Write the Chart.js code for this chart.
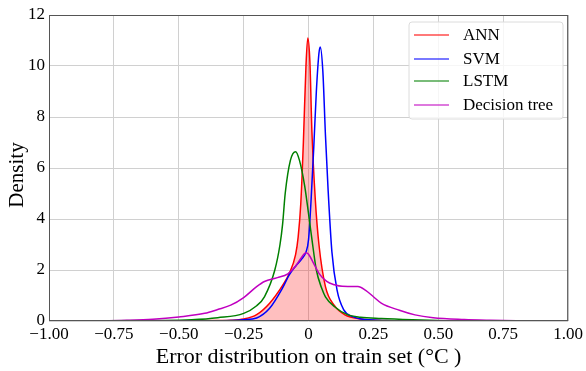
<!DOCTYPE html>
<html>
<head>
<meta charset="utf-8">
<script src="https://cdn.jsdelivr.net/npm/chart.js@4"></script>
<style>
  html, body { margin: 0; padding: 0; background: #fff; }
  #wrap { width: 586px; height: 371px; position: relative; }
</style>
</head>
<body>
<div id="wrap"><canvas id="kde"></canvas></div>
<script>
// Density curves
const seriesNames = ['ANN', 'SVM', 'LSTM', 'Decision tree'];

const annX = [-1, -0.5, -0.35, -0.3, -0.25, -0.2, -0.15, -0.1, -0.075, -0.05, -0.04, -0.03, -0.02, -0.01, -0.003, 0.005, 0.013, 0.026, 0.04, 0.065, 0.1, 0.14, 0.2, 0.3, 0.5, 1];
const annY = [0, 0.005, 0.02, 0.03, 0.08, 0.25, 0.7, 1.4, 1.85, 2.6, 3.3, 4.6, 7.0, 10.0, 11.1, 10.2, 7.4, 4.75, 3.0, 1.35, 0.6, 0.24, 0.08, 0.02, 0.005, 0];

const svmX = [-1, -0.5, -0.3, -0.25, -0.2, -0.15, -0.1, -0.075, -0.05, -0.025, -0.01, 0, 0.01, 0.02, 0.03, 0.04, 0.045, 0.055, 0.065, 0.075, 0.09, 0.11, 0.135, 0.17, 0.22, 0.3, 0.5, 1];
const svmY = [0, 0.005, 0.02, 0.05, 0.12, 0.5, 1.3, 1.8, 2.15, 2.45, 2.7, 3.2, 4.8, 6.8, 9.0, 10.5, 10.75, 9.8, 7.3, 5.2, 2.7, 1.2, 0.45, 0.17, 0.06, 0.02, 0.005, 0];

const lstmX = [-1, -0.8, -0.6, -0.45, -0.35, -0.25, -0.2, -0.17, -0.13, -0.11, -0.1, -0.09, -0.07, -0.05, -0.035, -0.015, 0, 0.013, 0.03, 0.05, 0.065, 0.1, 0.15, 0.2, 0.28, 0.4, 0.5, 0.6, 1];
const lstmY = [0, 0.005, 0.02, 0.05, 0.13, 0.3, 0.6, 0.95, 2.0, 3.0, 3.8, 5.0, 6.3, 6.64, 6.3, 5.3, 4.2, 3.2, 2.0, 1.3, 0.95, 0.56, 0.25, 0.15, 0.1, 0.05, 0.02, 0.005, 0];

const dtX = [-1, -0.8, -0.7, -0.6, -0.5, -0.4, -0.35, -0.3, -0.25, -0.2, -0.17, -0.12, -0.08, -0.05, -0.03, -0.01, 0, 0.02, 0.04, 0.07, 0.1, 0.13, 0.19, 0.22, 0.25, 0.28, 0.35, 0.41, 0.48, 0.6, 0.7, 0.8, 1];
const dtY = [0, 0.01, 0.03, 0.07, 0.16, 0.3, 0.45, 0.62, 0.92, 1.35, 1.55, 1.7, 1.85, 2.15, 2.45, 2.68, 2.62, 2.25, 1.87, 1.55, 1.42, 1.36, 1.35, 1.2, 0.95, 0.7, 0.42, 0.24, 0.13, 0.06, 0.03, 0.01, 0];

const xTicks = [-1, -0.75, -0.5, -0.25, 0, 0.25, 0.5, 0.75, 1];
const yTicks = [0, 2, 4, 6, 8, 10, 12];

const xTitle = 'Error distribution on train set (°C )';
const yTitle = 'Density';

const colours = ['#ff0000', '#0000ff', '#008000', '#c000c0'];
const legendColours = ['rgba(255,0,0,0.7)', 'rgba(0,0,255,0.7)', 'rgba(0,128,0,0.7)', 'rgba(192,0,192,0.7)'];

const serif = '"Liberation Serif", "Times New Roman", serif';

function pts(xs, ys) {
  return xs.map((x, i) => ({ x: x, y: ys[i] }));
}

function fmtX(v) {
  if (Math.abs(v) < 1e-9) return '0';
  return v.toFixed(2).replace('-', '\u2212');
}

// axis titles, frame and in-plot legend
const decorPlugin = {
  id: 'decor',
  afterDraw(chart) {
    const ctx = chart.ctx;
    const a = chart.chartArea;
    ctx.save();

    // frame around the plot
    ctx.strokeStyle = '#555';
    ctx.lineWidth = 1;
    ctx.strokeRect(a.left + 0.5, a.top + 0.5, a.right - a.left - 1, a.bottom - a.top - 1);

    // titles
    ctx.fillStyle = '#000';
    ctx.font = '22px ' + serif;
    ctx.textAlign = 'center';
    ctx.textBaseline = 'middle';
    ctx.fillText(xTitle, (a.left + a.right) / 2, 357);
    ctx.font = '21px ' + serif;
    ctx.translate(17, 175);
    ctx.rotate(-Math.PI / 2);
    ctx.fillText(yTitle, 0, 0);
    ctx.restore();

    // legend box
    ctx.save();
    const bx = 409, by = 22, bw = 154, bh = 97, r = 3;
    ctx.beginPath();
    ctx.moveTo(bx + r, by);
    ctx.arcTo(bx + bw, by, bx + bw, by + bh, r);
    ctx.arcTo(bx + bw, by + bh, bx, by + bh, r);
    ctx.arcTo(bx, by + bh, bx, by, r);
    ctx.arcTo(bx, by, bx + bw, by, r);
    ctx.closePath();
    ctx.fillStyle = 'rgba(255,255,255,0.8)';
    ctx.fill();
    ctx.strokeStyle = '#dcdcdc';
    ctx.lineWidth = 1;
    ctx.stroke();

    const rows = [35, 59, 81, 105];
    ctx.font = '17px ' + serif;
    ctx.textAlign = 'left';
    ctx.textBaseline = 'middle';
    seriesNames.forEach((name, i) => {
      ctx.strokeStyle = legendColours[i];
      ctx.lineWidth = 1.5;
      ctx.beginPath();
      ctx.moveTo(414, rows[i]);
      ctx.lineTo(449, rows[i]);
      ctx.stroke();
      ctx.fillStyle = '#000';
      ctx.fillText(name, 463, rows[i] + 1);
    });
    ctx.restore();
  }
};

const datasets = [
  { label: seriesNames[0], data: pts(annX, annY), borderColor: colours[0], backgroundColor: 'rgba(255,0,0,0.25)', fill: 'origin', order: 4 },
  { label: seriesNames[1], data: pts(svmX, svmY), borderColor: colours[1], fill: false, order: 3 },
  { label: seriesNames[2], data: pts(lstmX, lstmY), borderColor: colours[2], fill: false, order: 2 },
  { label: seriesNames[3], data: pts(dtX, dtY), borderColor: colours[3], fill: false, order: 1 }
].map(d => Object.assign({
  borderWidth: 1.5,
  pointRadius: 0,
  showLine: true,
  cubicInterpolationMode: 'monotone'
}, d));

new Chart(document.getElementById('kde'), {
  type: 'scatter',
  data: { datasets: datasets },
  options: {
    responsive: true,
    maintainAspectRatio: false,
    animation: false,
    layout: { padding: { top: 15, right: 17, left: 0, bottom: 0 } },
    plugins: {
      legend: { display: false },
      tooltip: { enabled: false }
    },
    scales: {
      x: {
        type: 'linear',
        min: -1,
        max: 1,
        afterBuildTicks(scale) { scale.ticks = xTicks.map(v => ({ value: v })); },
        afterFit(scale) { scale.height = 50; },
        ticks: {
          color: '#000',
          font: { family: serif, size: 17 },
          padding: 3,
          maxRotation: 0,
          autoSkip: false,
          callback: v => fmtX(v)
        },
        grid: { color: '#d0d0d0', lineWidth: 1, drawTicks: false },
        border: { display: false }
      },
      y: {
        min: 0,
        max: 12,
        afterBuildTicks(scale) { scale.ticks = yTicks.map(v => ({ value: v })); },
        afterFit(scale) { scale.width = 49; },
        ticks: {
          color: '#000',
          font: { family: serif, size: 17 },
          padding: 4,
          callback: v => String(v)
        },
        grid: { color: '#d0d0d0', lineWidth: 1, drawTicks: false },
        border: { display: false }
      }
    }
  },
  plugins: [decorPlugin]
});
</script>
</body>
</html>
